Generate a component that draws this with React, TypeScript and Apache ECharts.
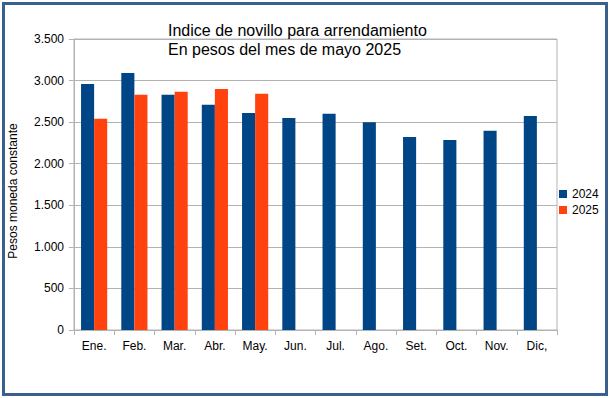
import React, { useEffect, useRef } from "react";
import * as echarts from "echarts";

const months = ["Ene.", "Feb.", "Mar.", "Abr.", "May.", "Jun.", "Jul.", "Ago.", "Set.", "Oct.", "Nov.", "Dic,"];
const values2024 = [2960, 3090, 2830, 2710, 2610, 2550, 2600, 2500, 2320, 2285, 2395, 2575];
const values2025 = [2540, 2830, 2865, 2900, 2840, null, null, null, null, null, null, null];
const titleLines = ["Indice de novillo para arrendamiento", "En pesos del mes de mayo 2025"];
const yAxisTitle = "Pesos moneda constante";

const fontFamily = "'Liberation Sans', Arial, sans-serif";

export default function App() {
  const ref = useRef<HTMLDivElement>(null);
  useEffect(() => {
    document.body.style.margin = "0";
    const chart = echarts.init(ref.current!, null, { renderer: "svg" });
    chart.setOption({
      animation: false,
      backgroundColor: "#ffffff",
      textStyle: { fontFamily },
      grid: {
        left: 74,
        right: 53,
        top: 39,
        bottom: 68,
        show: true,
        borderColor: "#b3b3b3",
        borderWidth: 1,
      },
      legend: {
        orient: "vertical",
        left: 554,
        top: 183,
        itemWidth: 8,
        itemHeight: 8,
        itemGap: 4,
        icon: "rect",
        textStyle: { fontSize: 12, color: "#000", fontFamily },
        data: ["2024", "2025"],
      },
      xAxis: {
        type: "category",
        data: months,
        boundaryGap: true,
        axisLine: { show: true, lineStyle: { color: "#b3b3b3" } },
        axisTick: { show: true, length: 5, lineStyle: { color: "#b3b3b3" } },
        axisLabel: { fontSize: 12, color: "#000", margin: 10, fontFamily },
        splitLine: { show: false },
      },
      yAxis: {
        type: "value",
        min: 0,
        max: 3500,
        interval: 500,
        axisLine: { show: true, lineStyle: { color: "#b3b3b3" } },
        axisTick: { show: true, length: 5, lineStyle: { color: "#b3b3b3" } },
        axisLabel: {
          fontSize: 12,
          color: "#000",
          margin: 10,
          fontFamily,
          formatter: (v: number) => v.toString().replace(/\B(?=(\d{3})+(?!\d))/g, "."),
        },
        splitLine: { show: true, lineStyle: { color: "#b3b3b3" } },
      },
      series: [
        {
          name: "2024",
          type: "bar",
          data: values2024,
          itemStyle: { color: "#004586" },
          barGap: "0%",
          barCategoryGap: "35%",
        },
        {
          name: "2025",
          type: "bar",
          data: values2025,
          itemStyle: { color: "#ff420e" },
          barGap: "0%",
          barCategoryGap: "35%",
        },
      ],
      graphic: [
        {
          type: "rect",
          shape: { x: 3.5, y: 3.5, width: 603, height: 391 },
          style: { fill: "none", stroke: "#3a6090", lineWidth: 3 },
          silent: true,
        },
        {
          type: "text",
          x: 168,
          y: 21,
          style: {
            text: titleLines.join("\n"),
            fontSize: 16,
            lineHeight: 19,
            fontFamily,
            fill: "#000",
            textAlign: "left",
            textVerticalAlign: "top",
          },
        },
        {
          type: "text",
          x: 13,
          y: 191,
          rotation: Math.PI / 2,
          style: {
            text: yAxisTitle,
            fontSize: 12,
            fontFamily,
            fill: "#000",
            textAlign: "center",
            textVerticalAlign: "middle",
          },
        },
      ],
    });
    return () => chart.dispose();
  }, []);
  return (
    <div
      ref={ref}
      style={{ position: "absolute", left: 0, top: 0, width: 610, height: 398 }}
    />
  );
}
